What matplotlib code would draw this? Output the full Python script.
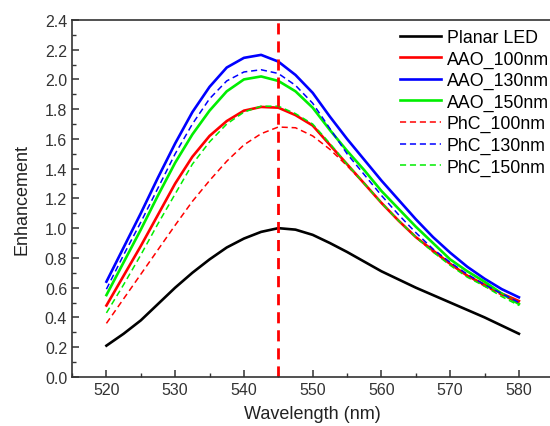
import matplotlib
matplotlib.use("Agg")
import matplotlib.pyplot as plt
from matplotlib.ticker import MultipleLocator, FormatStrFormatter

plt.rcParams['font.family'] = ['Liberation Sans', 'DejaVu Sans']

# wavelength (nm)
wl = [520, 522.5, 525, 527.5, 530, 532.5, 535, 537.5, 540, 542.5, 545, 547.5, 550,
      552.5, 555, 557.5, 560, 562.5, 565, 567.5, 570, 572.5, 575, 577.5, 580]

planar = [0.21, 0.29, 0.38, 0.49, 0.60, 0.70, 0.79, 0.87, 0.93, 0.975, 1.0, 0.99, 0.955,
          0.90, 0.84, 0.775, 0.71, 0.655, 0.60, 0.55, 0.50, 0.45, 0.40, 0.345, 0.29]
aao_100 = [0.48, 0.68, 0.88, 1.09, 1.30, 1.48, 1.62, 1.72, 1.79, 1.815, 1.81, 1.76, 1.69,
           1.56, 1.43, 1.30, 1.17, 1.05, 0.94, 0.85, 0.76, 0.68, 0.62, 0.56, 0.51]
aao_130 = [0.64, 0.87, 1.10, 1.34, 1.57, 1.78, 1.95, 2.08, 2.145, 2.165, 2.12, 2.03, 1.91,
           1.75, 1.60, 1.46, 1.32, 1.19, 1.06, 0.94, 0.835, 0.74, 0.66, 0.59, 0.535]
aao_150 = [0.55, 0.77, 0.99, 1.22, 1.44, 1.63, 1.79, 1.92, 2.00, 2.02, 1.99, 1.92, 1.81,
           1.66, 1.52, 1.39, 1.25, 1.13, 1.01, 0.90, 0.79, 0.71, 0.64, 0.56, 0.49]
phc_100 = [0.36, 0.525, 0.69, 0.855, 1.02, 1.18, 1.32, 1.45, 1.56, 1.635, 1.68, 1.675, 1.62,
           1.53, 1.42, 1.30, 1.17, 1.05, 0.94, 0.84, 0.76, 0.68, 0.61, 0.55, 0.50]
phc_130 = [0.59, 0.82, 1.04, 1.27, 1.50, 1.70, 1.87, 1.99, 2.05, 2.065, 2.04, 1.96, 1.84,
           1.67, 1.50, 1.36, 1.22, 1.09, 0.97, 0.86, 0.77, 0.69, 0.62, 0.56, 0.50]
phc_150 = [0.43, 0.62, 0.82, 1.03, 1.23, 1.43, 1.58, 1.70, 1.78, 1.82, 1.82, 1.77, 1.70,
           1.57, 1.43, 1.30, 1.17, 1.05, 0.94, 0.84, 0.75, 0.67, 0.61, 0.54, 0.48]

peak_wl = 545

fig = plt.figure(figsize=(5.5, 4.27), dpi=100)
ax = fig.add_axes([0.131, 0.115, 0.875, 0.836])

ax.plot(wl, planar, color='black', lw=1.9, label='Planar LED')
ax.plot(wl, aao_100, color='#ff0000', lw=1.9, label='AAO_100nm')
ax.plot(wl, aao_130, color='#0000ff', lw=1.9, label='AAO_130nm')
ax.plot(wl, aao_150, color='#00ee00', lw=1.9, label='AAO_150nm')
ax.plot(wl, phc_100, color='#ff0000', lw=1.1, ls=(0, (4, 2.5)), label='PhC_100nm')
ax.plot(wl, phc_130, color='#0000ff', lw=1.1, ls=(0, (4, 2.5)), label='PhC_130nm')
ax.plot(wl, phc_150, color='#00ee00', lw=1.1, ls=(0, (4, 2.5)), label='PhC_150nm')

ax.axvline(peak_wl, color='#ff0000', lw=2.0, ls=(0, (4, 2.5)))

ax.set_xlim(515, 585)
ax.set_ylim(0, 2.4)
ax.xaxis.set_major_locator(MultipleLocator(10))
ax.xaxis.set_minor_locator(MultipleLocator(5))
ax.yaxis.set_major_locator(MultipleLocator(0.2))
ax.yaxis.set_minor_locator(MultipleLocator(0.1))
ax.yaxis.set_major_formatter(FormatStrFormatter('%.1f'))
ax.tick_params(which='both', direction='in', top=False, right=False, labelsize=11.5, colors='#333333')
ax.tick_params(which='major', length=5, width=1.1)
ax.tick_params(which='minor', length=3, width=1.0)
for s in ax.spines.values():
    s.set_linewidth(1.2)
    s.set_color('#333333')
ax.spines['right'].set_visible(False)

ax.set_xlabel('Wavelength (nm)', fontsize=13, color='#222222', labelpad=6)
ax.set_ylabel('Enhancement', fontsize=13, color='#222222', labelpad=10)

leg = ax.legend(loc='upper left', bbox_to_anchor=(0.728, 0.93), bbox_transform=fig.transFigure,
                frameon=False, fontsize=12.8, handlelength=2.3, handletextpad=0.3,
                labelspacing=0.25, borderpad=0, borderaxespad=0)

fig.savefig('out.png', dpi=100)
